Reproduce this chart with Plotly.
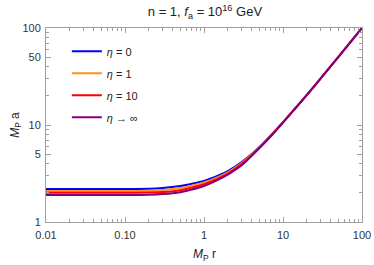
import plotly.graph_objects as go

r_vals = [0.01, 0.03, 0.1, 0.2, 0.3, 0.5, 0.7, 1, 1.5, 2, 3, 5, 7, 10, 20, 30, 50, 100]
a_eta0 = [2.19, 2.19, 2.19, 2.20, 2.24, 2.35, 2.48, 2.65, 3.00, 3.35, 4.15, 5.90, 7.80, 10.7, 20.4, 30.2, 50.1, 100]
a_eta1 = [2.09, 2.09, 2.09, 2.10, 2.14, 2.24, 2.37, 2.55, 2.90, 3.25, 4.05, 5.85, 7.75, 10.7, 20.4, 30.2, 50.1, 100]
a_eta10 = [2.00, 2.00, 2.00, 2.01, 2.04, 2.13, 2.26, 2.45, 2.80, 3.15, 3.95, 5.80, 7.70, 10.65, 20.35, 30.2, 50.1, 100]
a_etainf = [1.90, 1.90, 1.90, 1.91, 1.94, 2.03, 2.16, 2.35, 2.72, 3.08, 3.85, 5.75, 7.65, 10.6, 20.3, 30.2, 50.1, 100]

series = [
    ("<i>η</i> = 0", a_eta0, "#0000FF"),
    ("<i>η</i> = 1", a_eta1, "#FF9020"),
    ("<i>η</i> = 10", a_eta10, "#FF0000"),
    ("<i>η</i> → ∞", a_etainf, "#800080"),
]

x_ticks = [0.01, 0.1, 1, 10, 100]
x_ticklabels = ["0.01", "0.10", "1", "10", "100"]
y_ticks = [1, 5, 10, 50, 100]
y_ticklabels = ["1", "5", "10", "50", "100"]

x_minor = [m * 10 ** e for e in range(-2, 2) for m in range(2, 10)]
y_minor = [m * 10 ** e for e in range(0, 2) for m in [2, 3, 4, 6, 7, 8, 9]]

fig = go.Figure()
for i, (name, ys, col) in enumerate(series):
    fig.add_trace(go.Scatter(
        x=r_vals, y=ys, mode="lines", name=name,
        line=dict(color=col, width=2, shape="spline", smoothing=1.0),
        legendgroup=f"g{i}",
    ))

frame_col = "#A0A0A0"
axis_common = dict(
    type="log", showgrid=False, zeroline=False, showline=True,
    linecolor=frame_col, linewidth=1, mirror="ticks",
    ticks="inside", ticklen=5, tickcolor=frame_col, tickwidth=1,
    tickfont=dict(size=11, color="#333333"), automargin=False,
)

fig.update_layout(
    width=374, height=265,
    margin=dict(l=46, r=12, t=28, b=43),
    paper_bgcolor="white", plot_bgcolor="white",
    font=dict(family="Liberation Sans, Arial, sans-serif", color="#222222"),
    title=dict(text="n = 1, <i>f</i><sub>a</sub> = 10<sup>16</sup> GeV",
               x=0.548, xanchor="center", y=0.955, yanchor="middle",
               font=dict(size=13, color="#222222")),
    xaxis=dict(**axis_common, range=[-2, 2], tickvals=x_ticks, ticktext=x_ticklabels,
               ticklabelstandoff=3,
               minor=dict(tickvals=x_minor, ticks="inside", ticklen=3, tickcolor=frame_col)),
    yaxis=dict(**axis_common, range=[0, 2], tickvals=y_ticks, ticktext=y_ticklabels,
               ticklabelstandoff=2,
               minor=dict(tickvals=y_minor, ticks="inside", ticklen=3, tickcolor=frame_col),
               title=dict(text="<i>M</i><sub>P</sub> a", font=dict(size=12), standoff=0)),
    legend=dict(x=0.066, y=0.955, xanchor="left", yanchor="top",
                bgcolor="rgba(0,0,0,0)", font=dict(size=11), tracegroupgap=3),
    showlegend=True,
    annotations=[dict(text="<i>M</i><sub>P</sub> r", xref="paper", yref="paper",
                      x=0.5, y=-0.17, xanchor="center", yanchor="middle",
                      showarrow=False, font=dict(size=12, color="#222222"))],
)

fig.write_html("out.html", config={"displayModeBar": False},
               post_script="document.body.style.margin='0px';")
